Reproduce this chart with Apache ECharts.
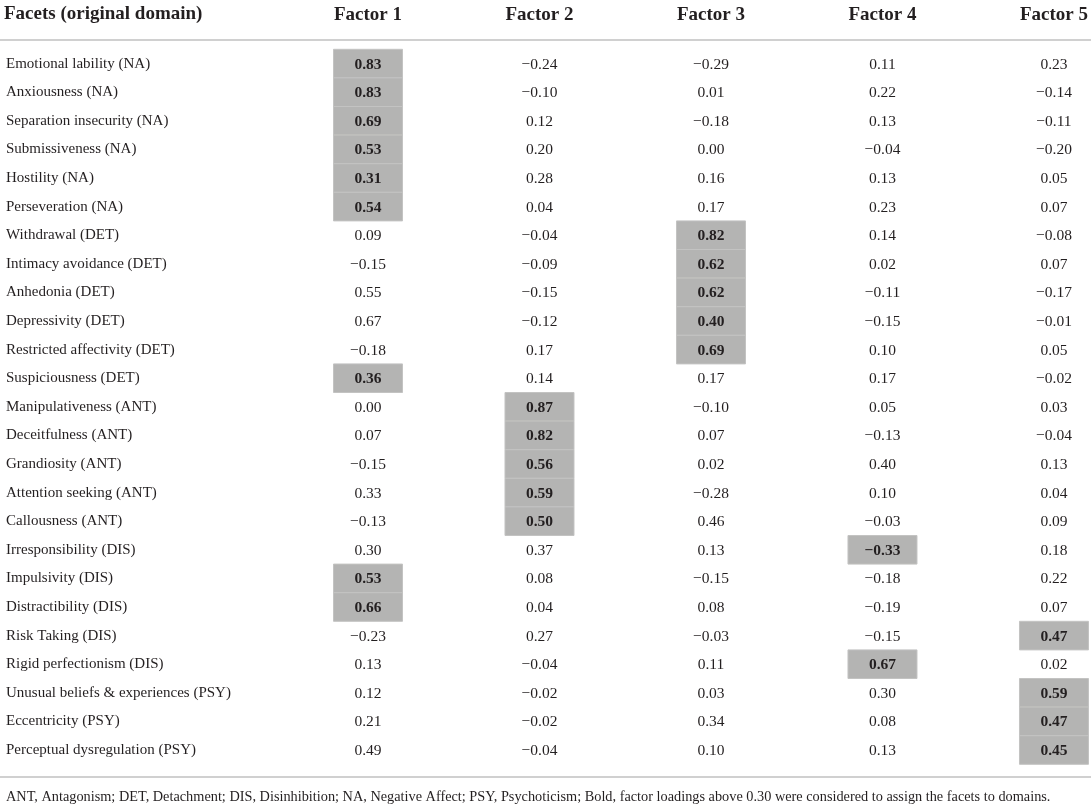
<!DOCTYPE html>
<html>
<head>
<meta charset="utf-8">
<title>Factor loadings</title>
<script src="https://cdn.jsdelivr.net/npm/echarts@6/dist/echarts.min.js"></script>
<style>
  html, body { margin: 0; padding: 0; background: #fff; }
  #chart { width: 1091px; height: 805px; }
</style>
</head>
<body>
<div id="chart"></div>
<script>
// facets (rows) and factors (columns)
var facets = [
  'Emotional lability (NA)', 'Anxiousness (NA)', 'Separation insecurity (NA)',
  'Submissiveness (NA)', 'Hostility (NA)', 'Perseveration (NA)',
  'Withdrawal (DET)', 'Intimacy avoidance (DET)', 'Anhedonia (DET)',
  'Depressivity (DET)', 'Restricted affectivity (DET)', 'Suspiciousness (DET)',
  'Manipulativeness (ANT)', 'Deceitfulness (ANT)', 'Grandiosity (ANT)',
  'Attention seeking (ANT)', 'Callousness (ANT)', 'Irresponsibility (DIS)',
  'Impulsivity (DIS)', 'Distractibility (DIS)', 'Risk Taking (DIS)',
  'Rigid perfectionism (DIS)', 'Unusual beliefs & experiences (PSY)',
  'Eccentricity (PSY)', 'Perceptual dysregulation (PSY)'
];
var factors = ['Factor 1', 'Factor 2', 'Factor 3', 'Factor 4', 'Factor 5'];

// loadings per factor, same order as facets
var factor1 = [0.83, 0.83, 0.69, 0.53, 0.31, 0.54, 0.09, -0.15, 0.55, 0.67, -0.18, 0.36, 0.00, 0.07, -0.15, 0.33, -0.13, 0.30, 0.53, 0.66, -0.23, 0.13, 0.12, 0.21, 0.49];
var factor2 = [-0.24, -0.10, 0.12, 0.20, 0.28, 0.04, -0.04, -0.09, -0.15, -0.12, 0.17, 0.14, 0.87, 0.82, 0.56, 0.59, 0.50, 0.37, 0.08, 0.04, 0.27, -0.04, -0.02, -0.02, -0.04];
var factor3 = [-0.29, 0.01, -0.18, 0.00, 0.16, 0.17, 0.82, 0.62, 0.62, 0.40, 0.69, 0.17, -0.10, 0.07, 0.02, -0.28, 0.46, 0.13, -0.15, 0.08, -0.03, 0.11, 0.03, 0.34, 0.10];
var factor4 = [0.11, 0.22, 0.13, -0.04, 0.13, 0.23, 0.14, 0.02, -0.11, -0.15, 0.10, 0.17, 0.05, -0.13, 0.40, 0.10, -0.03, -0.33, -0.18, -0.19, -0.15, 0.67, 0.30, 0.08, 0.13];
var factor5 = [0.23, -0.14, -0.11, -0.20, 0.05, 0.07, -0.08, 0.07, -0.17, -0.01, 0.05, -0.02, 0.03, -0.04, 0.13, 0.04, 0.09, 0.18, 0.22, 0.07, 0.47, 0.02, 0.59, 0.47, 0.45];

// factor each facet was assigned to (highlighted, bold cell)
var assigned = [1, 1, 1, 1, 1, 1, 3, 3, 3, 3, 3, 1, 2, 2, 2, 2, 2, 4, 1, 1, 5, 4, 5, 5, 5];

var footnote = 'ANT, Antagonism; DET, Detachment; DIS, Disinhibition; NA, Negative Affect; PSY, Psychoticism; Bold, factor loadings above 0.30 were considered to assign the facets to domains.';

var SERIF = 'Liberation Serif';
var TXT = '#231f20';

var chart = echarts.init(document.getElementById('chart'));

// build [col, row, value, highlighted] cells
var columns = [factor1, factor2, factor3, factor4, factor5];
var cells = [];
for (var c = 0; c < columns.length; c++) {
  for (var r = 0; r < facets.length; r++) {
    cells.push([c, r, columns[c][r], assigned[r] === c + 1 ? 1 : 0]);
  }
}

var fmt = function(v) {
  var s = Math.abs(v).toFixed(2);
  return v < 0 ? '\u2212' + s : s;
};

var renderCell = function(params, api) {
  var v = api.value(2), hl = api.value(3);
  var p = api.coord([api.value(0), api.value(1)]);
  var bh = api.size([0, 1])[1];
  var bw = 69;
  var children = [];
  if (hl) {
    children.push({
      type: 'rect',
      shape: { x: p[0] - bw / 2, y: p[1] - bh / 2, width: bw, height: bh },
      style: { fill: '#b4b4b3', stroke: '#c3c3c2', lineWidth: 1 }
    });
  }
  children.push({
    type: 'text',
    style: {
      text: fmt(v),
      x: p[0],
      y: p[1] + 1,
      align: 'center',
      verticalAlign: 'middle',
      fontFamily: SERIF,
      fontSize: 15.5,
      fontWeight: hl ? 'bold' : 'normal',
      fill: TXT
    }
  });
  return { type: 'group', children: children };
};

var option = {
  backgroundColor: '#fff',
  animation: false,
  textStyle: { fontFamily: SERIF, color: TXT },
  // columns sit on ticks: Factor 1 at x=368, Factor 5 at x=1054
  grid: { left: 368, right: 37, top: 49.3, height: 715 },
  xAxis: {
    type: 'category',
    position: 'top',
    boundaryGap: false,
    data: factors,
    axisLine: { show: false },
    axisTick: { show: false },
    splitLine: { show: false },
    axisLabel: {
      margin: 25,
      fontFamily: SERIF,
      fontSize: 19,
      fontWeight: 'bold',
      color: TXT
    }
  },
  yAxis: {
    type: 'category',
    inverse: true,
    data: facets,
    axisLine: { show: false },
    axisTick: { show: false },
    splitLine: { show: false },
    axisLabel: {
      align: 'left',
      margin: 362,
      fontFamily: SERIF,
      fontSize: 15,
      color: TXT
    }
  },
  series: [{
    type: 'custom',
    renderItem: renderCell,
    data: cells,
    clip: false
  }],
  graphic: [
    {
      type: 'text', left: 4, top: 5,
      style: { text: 'Facets (original domain)', fontFamily: SERIF, fontSize: 19, fontWeight: 'bold', fill: TXT }
    },
    {
      type: 'line', shape: { x1: 0, y1: 40, x2: 1091, y2: 40 },
      style: { stroke: '#d0d0d0', lineWidth: 2 }
    },
    {
      type: 'line', shape: { x1: 0, y1: 777, x2: 1091, y2: 777 },
      style: { stroke: '#d0d0d0', lineWidth: 2 }
    },
    {
      type: 'text', left: 6, top: 790,
      style: { text: footnote, fontFamily: SERIF, fontSize: 14.3, fill: TXT }
    }
  ]
};

chart.setOption(option);
window.addEventListener('resize', function() {
  chart.resize();
});
</script>
</body>
</html>
